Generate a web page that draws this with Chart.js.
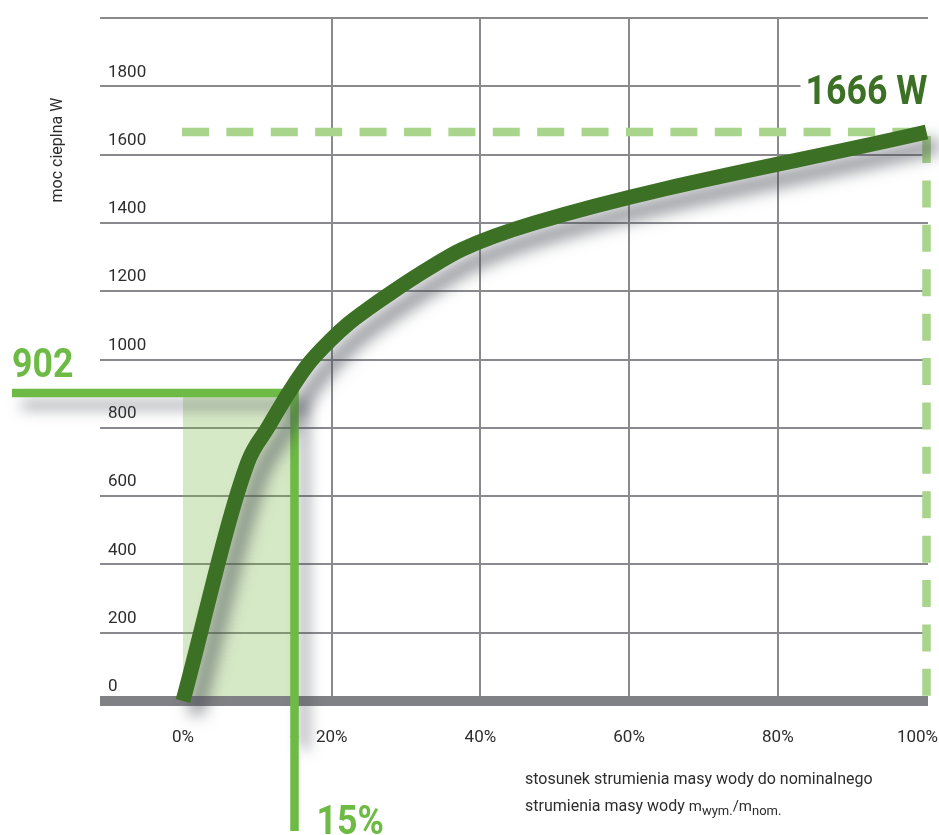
<!DOCTYPE html>
<html>
<head>
<meta charset="utf-8">
<script src="https://cdn.jsdelivr.net/npm/chart.js@4.4.1/dist/chart.umd.min.js"></script>
<style>
html,body{margin:0;padding:0;background:#ffffff;}
#wrap{position:relative;width:939px;height:835px;overflow:hidden;}
canvas{display:block;}
</style>
</head>
<body>
<div id="wrap"><canvas id="c" width="939" height="835"></canvas></div>
<script>
// ---- data ----
const flowPercent = [0, 8.7, 11.4, 14.2, 16.8, 20, 22.2, 25, 28.3, 33, 37.5, 47.3, 100];
const heatPower   = [0, 698, 800, 902, 985, 1060, 1104, 1150, 1200, 1266, 1322, 1400, 1666];
const xTickValues = [0, 20, 40, 60, 80, 100];
const yTickValues = [0, 200, 400, 600, 800, 1000, 1200, 1400, 1600, 1800, 2000];
const markerFlow = 15;
const markerPower = 902;
const nominalFlow = 100;
const nominalPower = 1666;
const yTitle = 'moc cieplna W';
const xTitleLine1 = 'stosunek strumienia masy wody do nominalnego';
const xTitleLine2 = 'strumienia masy wody ';
const xTitleSym = ['m', 'wym.', '/m', 'nom.'];

const DARK_GREEN = '#3c7125';
const MID_GREEN = '#6dbb45';
const LIGHT_GREEN = '#a9d48b';
const TEXT = '#2d2d2d';

function bigText(ctx, text, x, y, color, align) {
  ctx.save();
  ctx.font = 'bold 41px Roboto';
  ctx.fillStyle = color;
  ctx.textAlign = align || 'left';
  ctx.textBaseline = 'alphabetic';
  ctx.translate(x, y);
  ctx.scale(0.87, 1);
  ctx.fillText(text, 0, 0);
  ctx.restore();
}

const decor = {
  id: 'decor',
  beforeDraw(chart) {
    const xs = chart.scales.x;
    const items = xs.getLabelItems();
    const last = items[items.length - 1];
    if (last && !last._shifted) {
      last.options.translation = [last.options.translation[0] - 9, last.options.translation[1]];
      last._shifted = true;
    }
  },
  beforeDatasetsDraw(chart) {
    const {ctx, scales: {x, y}} = chart;
    const x0 = x.getPixelForValue(0);
    const x1 = x.getPixelForValue(markerFlow);
    const y0 = y.getPixelForValue(0);
    const y1 = y.getPixelForValue(markerPower);
    const xn = x.getPixelForValue(nominalFlow);
    const yn = y.getPixelForValue(nominalPower);
    ctx.save();
    // light green area
    ctx.fillStyle = 'rgba(112,180,60,0.29)';
    ctx.fillRect(x0, y1, x1 - x0, y0 - 5 - y1);
    // dashed nominal lines
    ctx.strokeStyle = LIGHT_GREEN;
    ctx.lineWidth = 8.5;
    ctx.lineCap = 'butt';
    ctx.setLineDash([27, 17.4]);
    ctx.beginPath();
    ctx.moveTo(x0 - 1, yn);
    ctx.lineTo(xn - 4, yn);
    ctx.stroke();
    ctx.beginPath();
    ctx.moveTo(xn, yn + 4);
    ctx.lineTo(xn, y0 - 4);
    ctx.stroke();
    // marker lines with shadow
    ctx.setLineDash([]);
    ctx.strokeStyle = MID_GREEN;
    ctx.lineWidth = 8.5;
    ctx.lineJoin = 'miter';
    ctx.shadowColor = 'rgba(70,75,85,0.5)';
    ctx.shadowBlur = 14;
    ctx.shadowOffsetX = 10;
    ctx.shadowOffsetY = 12;
    const yCut = y0 + 36;
    ctx.beginPath();
    ctx.moveTo(12, y1);
    ctx.lineTo(x1, y1);
    ctx.lineTo(x1, yCut);
    ctx.stroke();
    ctx.shadowColor = 'rgba(0,0,0,0)';
    ctx.beginPath();
    ctx.moveTo(x1, yCut - 1);
    ctx.lineTo(x1, 831);
    ctx.stroke();
    ctx.restore();
  },
  beforeDatasetDraw(chart) {
    const ctx = chart.ctx;
    ctx.save();
    ctx.shadowColor = 'rgba(65,70,80,0.6)';
    ctx.shadowBlur = 16;
    ctx.shadowOffsetX = 12;
    ctx.shadowOffsetY = 13;
  },
  afterDatasetDraw(chart) {
    chart.ctx.restore();
  },
  afterDraw(chart) {
    const {ctx, scales: {x, y}} = chart;
    const x1 = x.getPixelForValue(markerFlow);
    const y1 = y.getPixelForValue(markerPower);
    const xn = x.getPixelForValue(nominalFlow);
    const yn = y.getPixelForValue(nominalPower);
    // value labels
    bigText(ctx, String(markerPower), 12, y1 - 16, MID_GREEN, 'left');
    bigText(ctx, markerFlow + '%', x1 + 22, 834, MID_GREEN, 'left');
    ctx.save();
    ctx.fillStyle = '#ffffff';
    ctx.fillRect(xn - 126, yn - 62, 142, 40);
    ctx.restore();
    bigText(ctx, nominalPower + ' W', xn + 1, yn - 28, DARK_GREEN, 'right');
    // y title
    ctx.save();
    ctx.font = '16px Roboto';
    ctx.fillStyle = TEXT;
    ctx.textAlign = 'center';
    ctx.textBaseline = 'alphabetic';
    ctx.translate(62, 150);
    ctx.rotate(-Math.PI / 2);
    ctx.fillText(yTitle, 0, 0);
    ctx.restore();
    // x title
    ctx.save();
    ctx.fillStyle = TEXT;
    ctx.textAlign = 'left';
    ctx.textBaseline = 'alphabetic';
    ctx.font = '16px Roboto';
    const tx = 525;
    ctx.fillText(xTitleLine1, tx, 784);
    let cx = tx;
    ctx.fillText(xTitleLine2, cx, 811);
    cx += ctx.measureText(xTitleLine2).width;
    const parts = [
      {t: xTitleSym[0], f: '15px Roboto', dy: 0},
      {t: xTitleSym[1], f: '13px Roboto', dy: 4},
      {t: xTitleSym[2], f: '15px Roboto', dy: 0},
      {t: xTitleSym[3], f: '13px Roboto', dy: 4}
    ];
    for (const p of parts) {
      ctx.font = p.f;
      ctx.fillText(p.t, cx, 811 + p.dy);
      cx += ctx.measureText(p.t).width;
    }
    ctx.restore();
  }
};

Chart.defaults.font.family = 'Roboto';

new Chart(document.getElementById('c'), {
  type: 'line',
  data: {
    datasets: [{
      data: flowPercent.map((v, i) => ({x: v, y: heatPower[i]})),
      borderColor: DARK_GREEN,
      borderWidth: 15,
      borderCapStyle: 'butt',
      borderJoinStyle: 'round',
      pointRadius: 0,
      cubicInterpolationMode: 'monotone',
      fill: false,
      clip: false
    }]
  },
  options: {
    responsive: false,
    animation: false,
    devicePixelRatio: 1,
    layout: {padding: {left: 100, right: 11, top: 18, bottom: 0}},
    plugins: {legend: {display: false}, tooltip: {enabled: false}},
    scales: {
      x: {
        type: 'linear',
        min: -11.16,
        max: 100.2,
        border: {display: false},
        afterBuildTicks: s => { s.ticks = xTickValues.map(v => ({value: v})); },
        afterFit: s => { s.height = 134; s.paddingLeft = 0; s.paddingRight = 0; },
        grid: {
          drawTicks: false,
          lineWidth: 2,
          color: c => (c.tick && c.tick.value > 0 && c.tick.value < 100) ? '#8a8a8e' : 'rgba(0,0,0,0)'
        },
        ticks: {
          padding: 27,
          color: TEXT,
          font: {family: 'Roboto', size: 17},
          maxRotation: 0,
          callback: v => v + '%'
        }
      },
      y: {
        min: 0,
        max: 2000,
        border: {display: false},
        afterBuildTicks: s => { s.ticks = yTickValues.map(v => ({value: v})); },
        afterFit: s => { s.width = 0; s.paddingTop = 0; s.paddingBottom = 0; },
        grid: {
          drawTicks: false,
          lineWidth: c => (c.tick && c.tick.value === 0) ? 10 : 2,
          color: c => (c.tick && c.tick.value === 0) ? '#808184' : '#8a8a8e'
        },
        ticks: {
          mirror: true,
          padding: 8,
          labelOffset: -14,
          color: TEXT,
          font: {family: 'Roboto', size: 17},
          callback: v => v === 2000 ? '' : String(v)
        }
      }
    }
  },
  plugins: [decor]
});
</script>
</body>
</html>
